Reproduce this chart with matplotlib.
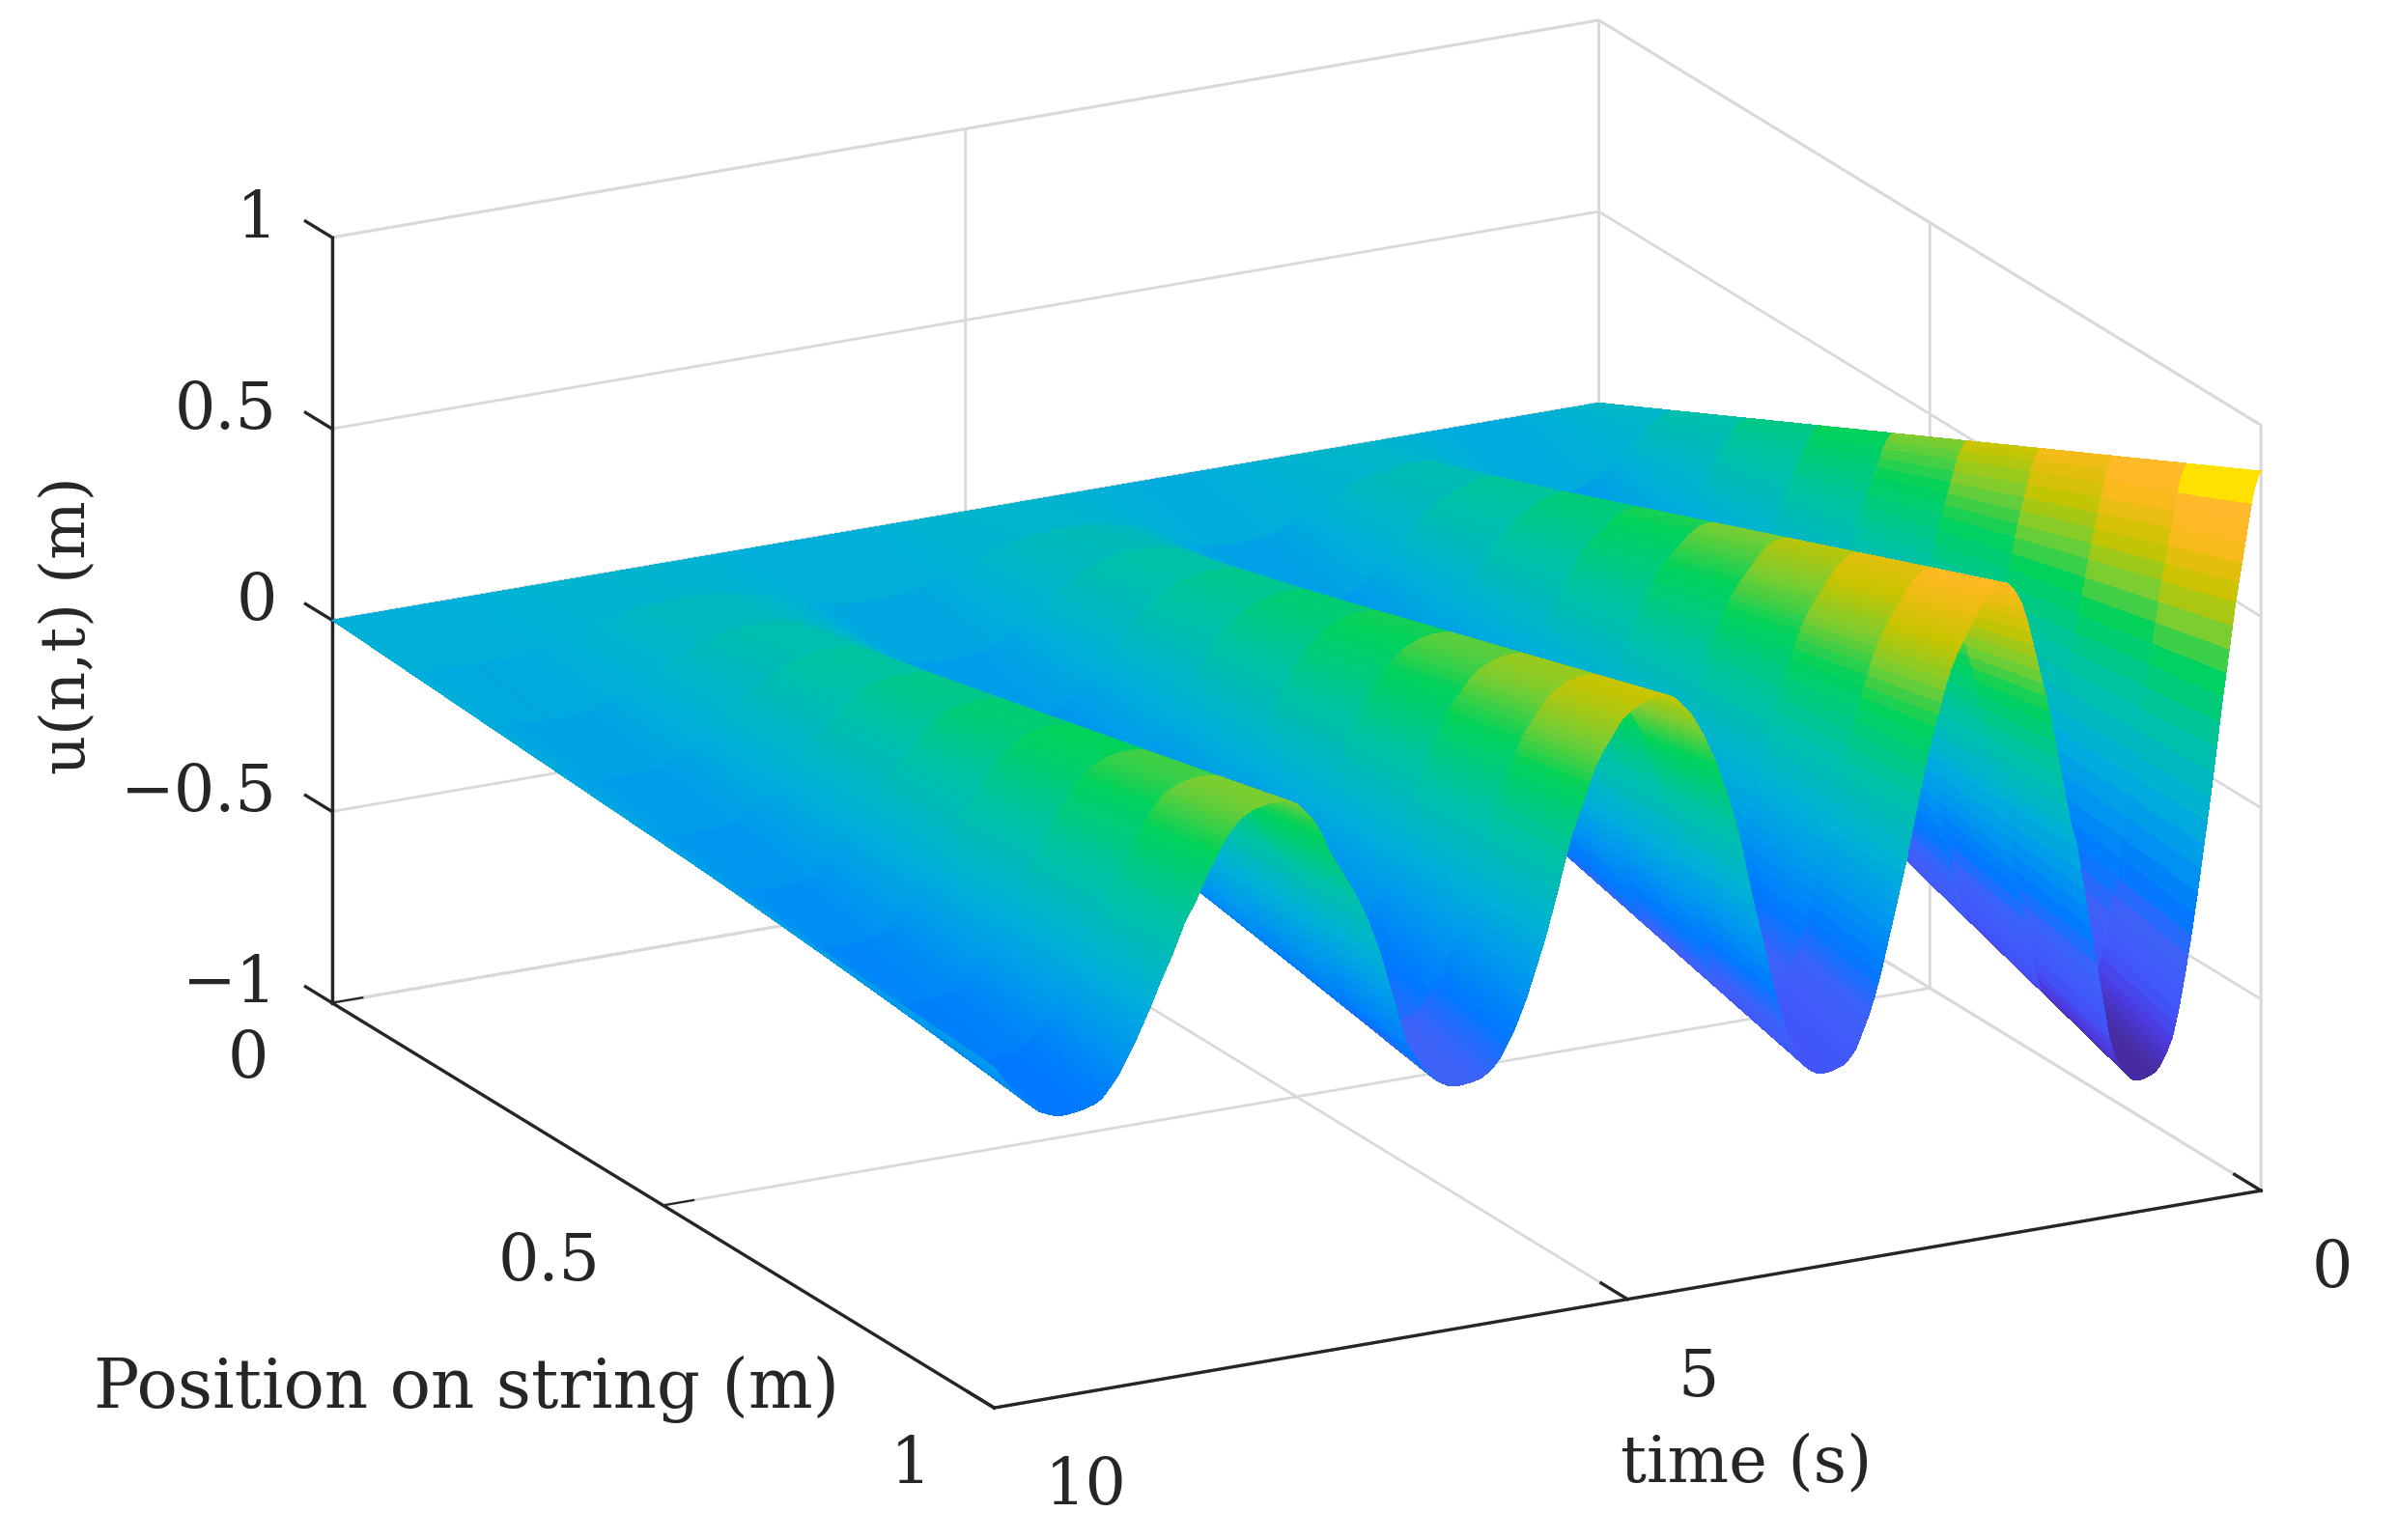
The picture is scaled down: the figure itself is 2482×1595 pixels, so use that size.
import numpy as np
import matplotlib
matplotlib.use('Agg')
import matplotlib.pyplot as plt
from matplotlib.colors import LinearSegmentedColormap, Normalize

position = [0.0, 0.111, 0.222, 0.333, 0.444, 0.556, 0.667, 0.778, 0.889, 1.0]
end_displacement = [
    0.88, 0.865, 0.84, 0.80, 0.75, 0.70, 0.65, 0.60, 0.55, 0.49, 0.43, 0.37, 0.31, 0.245, 0.18, 0.115, 0.05, -0.01, -0.07, -0.13,
    -0.19, -0.245, -0.30, -0.35, -0.40, -0.445, -0.49, -0.525, -0.56, -0.58, -0.60, -0.615, -0.63, -0.638, -0.645, -0.649, -0.652, -0.654, -0.656, -0.656,
    -0.655, -0.649, -0.64, -0.63, -0.62, -0.605, -0.59, -0.56, -0.53, -0.48, -0.43, -0.38, -0.33, -0.28, -0.23, -0.18, -0.13, -0.08, -0.02, 0.01,
    0.04, 0.085, 0.13, 0.175, 0.22, 0.265, 0.31, 0.35, 0.39, 0.425, 0.46, 0.495, 0.53, 0.565, 0.60, 0.625, 0.65, 0.665, 0.68, 0.69,
    0.70, 0.70, 0.70, 0.698, 0.695, 0.688, 0.68, 0.67, 0.66, 0.645, 0.63, 0.615, 0.60, 0.585, 0.57, 0.555, 0.54, 0.52, 0.50, 0.475,
    0.45, 0.42, 0.39, 0.36, 0.33, 0.295, 0.26, 0.22, 0.18, 0.14, 0.10, 0.06, 0.02, -0.015, -0.05, -0.085, -0.12, -0.155, -0.19, -0.225,
    -0.26, -0.29, -0.32, -0.345, -0.37, -0.39, -0.41, -0.43, -0.45, -0.46, -0.47, -0.478, -0.485, -0.488, -0.49, -0.493, -0.495, -0.496, -0.497, -0.496,
    -0.495, -0.49, -0.485, -0.478, -0.47, -0.455, -0.44, -0.425, -0.41, -0.39, -0.37, -0.34, -0.31, -0.28, -0.25, -0.21, -0.17, -0.135, -0.10, -0.065,
    -0.03, 0.01, 0.05, 0.09, 0.13, 0.165, 0.20, 0.23, 0.26, 0.285, 0.31, 0.335, 0.36, 0.38, 0.40, 0.42, 0.44, 0.455, 0.47, 0.485,
    0.50, 0.51, 0.52, 0.53, 0.54, 0.548, 0.555, 0.558, 0.56, 0.56, 0.56, 0.56, 0.56, 0.558, 0.555, 0.553, 0.55, 0.545, 0.54, 0.535,
    0.53, 0.522, 0.515, 0.503, 0.49, 0.478, 0.465, 0.453, 0.44, 0.425, 0.41, 0.39, 0.37, 0.345, 0.32, 0.298, 0.275, 0.253, 0.23, 0.198,
    0.165, 0.133, 0.10, 0.07, 0.04, 0.01, -0.02, -0.045, -0.07, -0.095, -0.12, -0.145, -0.17, -0.19, -0.21, -0.23, -0.25, -0.265, -0.28, -0.295,
    -0.31, -0.32, -0.33, -0.338, -0.345, -0.35, -0.355, -0.358, -0.36, -0.362, -0.363, -0.364, -0.365, -0.366, -0.366, -0.365, -0.363, -0.36, -0.355, -0.35,
    -0.345, -0.338, -0.33, -0.32, -0.31, -0.298, -0.285, -0.273, -0.26, -0.245, -0.23, -0.20, -0.17, -0.14, -0.11, -0.08, -0.05, -0.02, 0.01, 0.035,
    0.06, 0.083, 0.105, 0.125, 0.145, 0.163, 0.18, 0.195, 0.21, 0.225, 0.24, 0.255, 0.27, 0.285, 0.30, 0.32, 0.34, 0.358, 0.375, 0.388,
    0.40, 0.41, 0.42, 0.43, 0.44, 0.445, 0.45, 0.453, 0.455, 0.456, 0.457, 0.457, 0.457, 0.456, 0.455, 0.454, 0.452, 0.45, 0.448, 0.444,
    0.44, 0.435, 0.43, 0.423, 0.415, 0.405, 0.395, 0.383, 0.37, 0.355, 0.34, 0.325, 0.31, 0.293, 0.275, 0.258, 0.24, 0.225, 0.21, 0.195,
    0.18, 0.16, 0.14, 0.12, 0.10, 0.083, 0.065, 0.048, 0.03, 0.01, -0.01, -0.028, -0.045, -0.063, -0.08, -0.098, -0.115, -0.13, -0.145, -0.16,
    -0.175, -0.188, -0.20, -0.21, -0.22, -0.23, -0.24, -0.245, -0.25, -0.253, -0.255, -0.258, -0.26, -0.262, -0.263, -0.264, -0.265, -0.266, -0.266, -0.266,
    -0.265, -0.263, -0.26, -0.257, -0.253, -0.249, -0.245, -0.238, -0.23, -0.223, -0.215, -0.205, -0.195, -0.188, -0.18, -0.17, -0.16, -0.148, -0.135, -0.123,
    -0.11,
]
time = np.linspace(0, 10, len(end_displacement))

time_ticks = [0, 5, 10]
time_labels = ['0', '5', '10']
position_ticks = [0, 0.5, 1]
position_labels = ['0', '0.5', '1']
u_ticks = [-1, -0.5, 0, 0.5, 1]
u_labels = ['\u22121', '\u22120.5', '0', '0.5', '1']

# colour along the displacement range
color_levels = [-0.61, -0.54, -0.47, -0.345, -0.25, -0.12, 0.0, 0.18, 0.33, 0.43, 0.53, 0.62, 0.66, 0.735, 0.76, 0.81]
color_values = ['#462ca0', '#4b3ce1', '#4155fa', '#3f62f8', '#0078ff', '#0099ee', '#00b2d6', '#00c3a0', '#00d25c',
                '#78cd32', '#c8c400', '#f0bc14', '#ffb923', '#ffb92a', '#ffe100', '#ffe100']

plt.rcParams['font.family'] = ['DejaVu Serif']
plt.rcParams['grid.color'] = '#d9d9d9'
plt.rcParams['grid.linewidth'] = 1.0
plt.rcParams['axes.edgecolor'] = '#262626'
plt.rcParams['axes.linewidth'] = 1.2
plt.rcParams['xtick.major.width'] = 1.2
plt.rcParams['xtick.color'] = '#262626'
plt.rcParams['ytick.color'] = '#262626'

W, H = 2482, 1595
fig = plt.figure(figsize=(W / 200, H / 200), dpi=200)
S = 2182
ax = fig.add_axes([222 / W, -265 / H, S / W, S / H], projection='3d', proj_type='ortho')
ax.view_init(elev=18.9, azim=62.1)
ax.set_box_aspect((937, 925, 529))

T, X = np.meshgrid(time, position)
U = np.outer(position, end_displacement)

levels = np.array(color_levels)
norm = Normalize(levels[0], levels[-1])
cmap = LinearSegmentedColormap.from_list('string', list(zip(norm(levels), color_values)), N=512)

ax.plot_surface(T, X, U, cmap=cmap, norm=norm, rstride=1, cstride=1, linewidth=0, antialiased=False)

ax.set_xlim(0, 10, view_margin=0)
ax.set_ylim(0, 1, view_margin=0)
ax.set_zlim(-1, 1, view_margin=0)
ax.set_xticks(time_ticks)
ax.set_yticks(position_ticks)
ax.set_zticks(u_ticks)
ax.zaxis._get_tickdir = lambda position: 1

for axis, outward in [(ax.xaxis, 0.5), (ax.yaxis, 0.3), (ax.zaxis, 0.5)]:
    axis.set_tick_params(label1On=False)
    axis.set_pane_color((1, 1, 1, 1))
    axis.pane.set_edgecolor('#d9d9d9')
    axis.pane.set_linewidth(1.0)
    axis._axinfo['tick']['inward_factor'] = 0
    axis._axinfo['tick']['outward_factor'] = outward

# tick labels sit where the original has them, so place them in data space
label_style = dict(fontsize=24, color='#262626', va='center')
for t, text in zip(time_ticks, time_labels):
    ax.text(t, 1.076, -1.125, text, ha='left', **label_style)
for p, text in zip(position_ticks, position_labels):
    ax.text(10.5, p, -1.12, text, ha='right', **label_style)
for z, text in zip(u_ticks, u_labels):
    ax.text(10, -0.083, z - 0.04, text, ha='right', **label_style)

fig.text(71 / W, 1 - 648 / H, 'u(n,t) (m)', rotation=90, ha='center', va='center', fontsize=23, color='#262626')
fig.text(483 / W, 1 - 1439 / H, 'Position on string (m)', ha='center', va='center', fontsize=25.4, color='#262626')
fig.text(1808 / W, 1 - 1516 / H, 'time (s)', ha='center', va='center', fontsize=24.2, color='#262626')

fig.savefig('out.png', dpi=200)
plt.close(fig)
